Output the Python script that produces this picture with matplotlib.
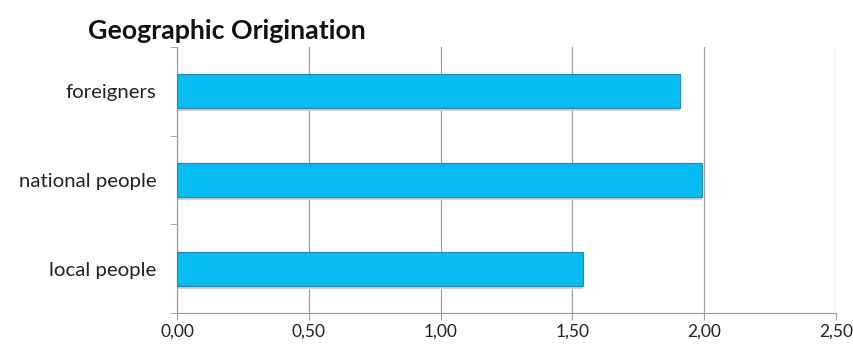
import numpy as np
import matplotlib
matplotlib.use('Agg')
import matplotlib.pyplot as plt
from matplotlib.ticker import FixedLocator, FuncFormatter

# data
categories = ['local people', 'national people', 'foreigners']
values = [1.54, 1.99, 1.91]
x_ticks = [0.0, 0.5, 1.0, 1.5, 2.0, 2.5]

plt.rcParams['font.family'] = ['Lato', 'DejaVu Sans']

fig = plt.figure(figsize=(8.54, 3.54), dpi=100)
ax = fig.add_axes([177 / 854, 1 - 313 / 354, (836 - 177) / 854, (313 - 47) / 354])

y = np.arange(len(categories))
# light shadow under each bar
ax.barh(y - 0.035, values, height=0.38, color='#d0d0d0', zorder=2)
ax.barh(y, values, height=0.38, color='#05BDF2', edgecolor='#2A8AB0',
        linewidth=0.9, zorder=3)

ax.set_xlim(0, 2.5)
ax.set_ylim(-0.5, len(categories) - 0.5)
ax.set_xticks(x_ticks)
ax.xaxis.set_major_formatter(FuncFormatter(lambda v, p: f'{v:.2f}'.replace('.', ',')))
ax.set_yticks(y)
ax.set_yticklabels(categories)
ax.yaxis.set_minor_locator(FixedLocator(np.arange(-0.5, len(categories), 1.0)))

ax.grid(axis='x', color='#a0a0a0', linewidth=0.9, zorder=0)
ax.set_axisbelow(True)
for s in ['top', 'right']:
    ax.spines[s].set_visible(False)
for s in ['left', 'bottom']:
    ax.spines[s].set_color('#a0a0a0')
    ax.spines[s].set_linewidth(0.9)

ax.tick_params(axis='x', length=5, color='#a0a0a0', labelsize=12.5, pad=3, labelcolor='#222222')
ax.tick_params(axis='y', which='major', length=0, labelsize=14.7, pad=15, labelcolor='#222222')
ax.tick_params(axis='y', which='minor', length=5, color='#a0a0a0')

fig.text(88 / 854, 1 - 31 / 354, 'Geographic Origination', fontsize=19.3,
         fontweight='bold', ha='left', va='center', color='#111111')

fig.savefig('out.png', dpi=100)
